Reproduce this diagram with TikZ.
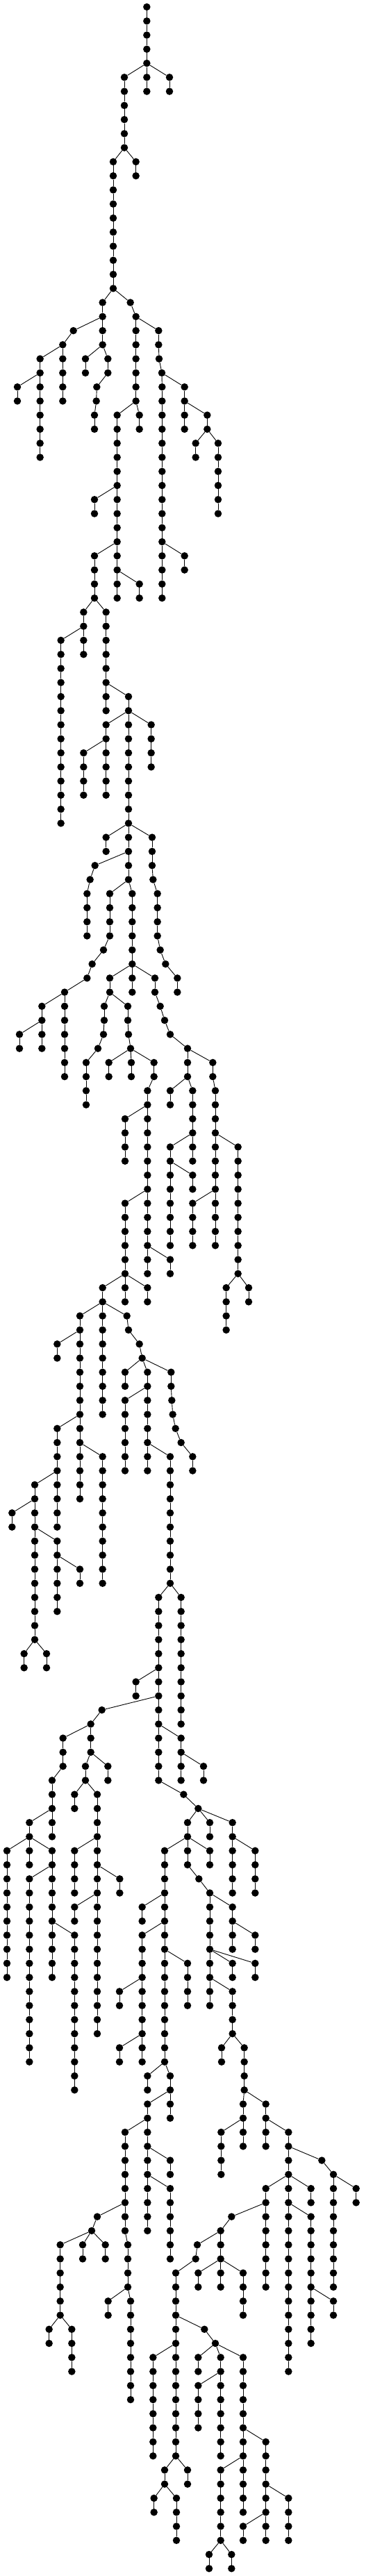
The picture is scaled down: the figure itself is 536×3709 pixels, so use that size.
\documentclass[tikz,border=0pt]{standalone}
\usepackage{tikz}
\tikzset{
  dot/.style={circle,fill=black,draw=none,inner sep=0pt,minimum size=10.5pt},
  edge/.style={draw=black,line width=0.9pt}
}
\newcommand\vch[4]{%
  \foreach \lv in {#2,...,#3}{%
    \node[dot] (#1-\lv) at ({#4/3},{-(10+\lv*20.265)}) {};
    \ifnum\lv>#2\relax
      \pgfmathtruncatemacro\pv{\lv-1}%
      \draw[edge] (#1-\pv) -- (#1-\lv);
    \fi
  }}
\newcommand\pth[3]{%
  \foreach \xx [count=\i from 0] in {#3}{%
    \pgfmathtruncatemacro\lv{#2+\i}%
    \node[dot] (#1-\lv) at ({\xx/3},{-(10+\lv*20.265)}) {};
    \ifnum\i>0\relax
      \pgfmathtruncatemacro\pv{\lv-1}%
      \draw[edge] (#1-\pv) -- (#1-\lv);
    \fi
  }}
\newcommand\ed[2]{\draw[edge] (#1) -- (#2);}
\begin{document}
\begin{tikzpicture}[x=1pt,y=1pt]
\useasboundingbox (0,0) rectangle (536,-3709);
\vch{A}{0}{4}{634}
\vch{B}{5}{6}{634}
\vch{C}{5}{6}{732}
\vch{D}{5}{10}{537}
\vch{E}{11}{12}{587}
\vch{F}{11}{20}{489}
\vch{G}{21}{22}{443}
\pth{H}{21}{563,587}
\vch{I}{23}{28}{587}
\vch{K}{23}{24}{443}
\pth{L}{23}{317,271}
\vch{M}{25}{26}{369}
\pth{N}{25}{466,466,418,416,408,408}
\vch{O}{25}{28}{271}
\vch{P}{25}{26}{173}
\vch{Q}{27}{28}{75}
\vch{R}{27}{32}{173}
\vch{S}{29}{34}{506}
\vch{T}{29}{30}{602}
\pth{J}{23}{685,685,687,699}
\vch{U}{27}{42}{700}
\vch{V}{27}{28}{797}
\vch{W}{29}{30}{797}
\vch{X}{29}{30}{895}
\vch{Y}{31}{32}{845}
\vch{Z}{31}{36}{942}
\vch{AA}{35}{36}{408}
\vch{AB}{35}{38}{506}
\vch{AC}{39}{42}{408}
\vch{AD}{39}{40}{506}
\vch{AE}{41}{42}{506}
\vch{AF}{41}{42}{602}
\vch{AG}{43}{44}{361}
\vch{AH}{43}{48}{458}
\vch{AI}{45}{58}{263}
\vch{AJ}{45}{46}{361}
\vch{AK}{39}{40}{797}
\vch{AL}{49}{50}{458}
\vch{AM}{49}{50}{555}
\vch{AN}{51}{52}{458}
\vch{AO}{51}{58}{555}
\vch{AP}{51}{54}{653}
\vch{AQ}{53}{56}{361}
\vch{AR}{53}{56}{458}
\vch{AS}{59}{60}{458}
\vch{AT}{59}{62}{555}
\pth{AU}{59}{657,657,657,661,680,680,680,680,692,715,766,766}
\pth{AV}{61}{410,389,376,376,376,376}
\pth{AW}{63}{474,474,474,474,447,398,376,279}
\vch{AX}{63}{68}{571}
\vch{AY}{71}{72}{181}
\vch{AZ}{71}{76}{279}
\vch{BA}{73}{74}{84}
\vch{BB}{73}{74}{181}
\vch{BC}{69}{70}{474}
\vch{BD}{69}{70}{571}
\pth{BE}{69}{669,669,692,711,735,810,810,810}
\pth{BF}{71}{450,450,447,423,372,372,372,372}
\pth{BG}{71}{552,552,555,564}
\vch{BH}{75}{76}{470}
\vch{BI}{75}{76}{567}
\pth{BJ}{75}{665,665,637,637,637,637,637,637,637,637,637,637,637,637,637,637}
\vch{BK}{79}{82}{540}
\vch{BL}{85}{92}{540}
\vch{BM}{89}{90}{735}
\vch{BN}{91}{92}{443}
\vch{BO}{91}{92}{637}
\pth{BP}{75}{919,919,930,930,930,930,930,930,930,930,930,930,930,930}
\vch{BQ}{81}{90}{1028}
\vch{BR}{85}{88}{832}
\vch{BS}{91}{94}{977}
\vch{BT}{91}{92}{1074}
\vch{BU}{77}{78}{735}
\vch{BV}{77}{82}{832}
\vch{BW}{81}{88}{735}
\vch{BX}{83}{84}{832}
\vch{BY}{93}{106}{345}
\vch{BZ}{93}{100}{443}
\pth{CA}{93}{548,555,602,614}
\vch{CB}{95}{96}{247}
\vch{CC}{101}{108}{247}
\vch{CD}{103}{112}{443}
\vch{CE}{105}{116}{150}
\vch{CF}{107}{108}{52}
\vch{CG}{109}{114}{247}
\vch{CH}{117}{118}{104}
\vch{CI}{117}{118}{201}
\vch{CJ}{111}{112}{345}
\vch{CK}{97}{98}{540}
\vch{CL}{97}{104}{637}
\pth{CM}{97}{739,739,742,746,758,782,832,832}
\vch{CN}{99}{104}{540}
\vch{CO}{103}{112}{735}
\pth{CP}{113}{685,685,685,685,685,685,685,685,685,685,685,685,685,685,793,856}
\vch{CQ}{113}{122}{782}
\vch{CR}{119}{120}{587}
\pth{CS}{121}{440,392,392,392}
\vch{CT}{123}{126}{782}
\pth{CU}{123}{272,272,272,225,225,225,225,225}
\vch{CV}{125}{126}{369}
\vch{CW}{125}{126}{466}
\vch{CX}{129}{132}{127}
\vch{CY}{131}{140}{30}
\vch{CZ}{131}{140}{225}
\vch{DA}{133}{146}{127}
\vch{DB}{137}{148}{322}
\vch{DC}{127}{128}{322}
\vch{DD}{127}{144}{420}
\vch{DE}{131}{134}{322}
\vch{DF}{133}{134}{517}
\vch{DG}{135}{136}{322}
\vch{DH}{125}{126}{879}
\pth{DI}{129}{810,810,810,810,859,906,906,906,906,906,906,906,906,906}
\vch{DJ}{129}{130}{906}
\vch{DK}{129}{134}{1004}
\vch{DL}{131}{134}{1102}
\vch{DM}{131}{146}{711}
\vch{DN}{131}{132}{906}
\vch{DO}{135}{138}{1004}
\vch{DP}{139}{140}{1004}
\vch{DQ}{139}{140}{1102}
\pth{DR}{141}{1004,1004,1004,1004,1055,1055,1055,1055}
\vch{DS}{137}{138}{1102}
\vch{DT}{145}{146}{957}
\vch{DU}{135}{136}{614}
\vch{DV}{137}{146}{614}
\vch{DW}{139}{142}{810}
\vch{DX}{147}{148}{637}
\vch{DY}{147}{150}{735}
\vch{DZ}{141}{142}{516}
\vch{EA}{145}{146}{516}
\vch{EB}{149}{158}{637}
\pth{EC}{151}{540,540,540,540,540,540,540,540,552,552,552,552,564,564,564,564,564,564,564,564}
\vch{ED}{153}{154}{735}
\vch{EE}{155}{160}{735}
\vch{EF}{163}{164}{467}
\pth{EG}{157}{420,396}
\vch{EH}{159}{164}{260}
\vch{EI}{159}{160}{357}
\vch{EJ}{159}{160}{455}
\vch{EK}{165}{166}{212}
\vch{EL}{165}{168}{310}
\vch{EM}{149}{152}{1050}
\vch{EN}{149}{152}{1148}
\vch{EO}{151}{154}{955}
\vch{EP}{151}{168}{1246}
\pth{EQ}{153}{1390,1440,1440,1440,1440,1440,1440,1440,1440,1440}
\vch{ER}{155}{162}{1148}
\vch{ES}{155}{156}{1343}
\vch{ET}{157}{166}{1343}
\vch{EU}{155}{156}{1538}
\vch{EV}{163}{164}{1440}
\pth{EW}{157}{1000,953,953,953,953,953}
\pth{EX}{159}{852,845,759,759,759,759,759,759,759,759,759,759,759,759,759,759}
\vch{EY}{161}{162}{856}
\vch{EZ}{161}{164}{1050}
\pth{FA}{165}{883,930}
\vch{FB}{167}{174}{661}
\vch{FC}{175}{176}{711}
\vch{FD}{175}{176}{810}
\vch{FE}{167}{168}{856}
\vch{FF}{167}{174}{953}
\vch{FG}{167}{178}{1050}
\vch{FH}{169}{172}{856}
\vch{FI}{173}{180}{1148}
\vch{FJ}{175}{180}{953}
\vch{FK}{181}{182}{903}
\vch{FL}{181}{182}{1000}
\vch{FM}{177}{180}{1246}
\vch{FN}{179}{180}{1050}
\vch{FO}{177}{178}{665}
\vch{FP}{177}{180}{762}
% branch connectors
\ed{A-4}{B-5}\ed{A-4}{C-5}\ed{A-4}{D-5}
\ed{D-10}{E-11}\ed{D-10}{F-11}
\ed{F-20}{G-21}\ed{F-20}{H-21}
\ed{H-22}{I-23}\ed{H-22}{J-23}
\ed{G-22}{K-23}\ed{G-22}{L-23}
\ed{K-24}{M-25}\ed{K-24}{N-25}
\ed{L-24}{O-25}\ed{L-24}{P-25}
\ed{P-26}{Q-27}\ed{P-26}{R-27}
\ed{I-28}{S-29}\ed{I-28}{T-29}
\ed{J-26}{U-27}\ed{J-26}{V-27}
\ed{V-28}{W-29}\ed{V-28}{X-29}
\ed{X-30}{Y-31}\ed{X-30}{Z-31}
\ed{S-34}{AA-35}\ed{S-34}{AB-35}
\ed{AB-38}{AC-39}\ed{AB-38}{AD-39}
\ed{AD-40}{AE-41}\ed{AD-40}{AF-41}
\ed{AC-42}{AG-43}\ed{AC-42}{AH-43}
\ed{AG-44}{AI-45}\ed{AG-44}{AJ-45}
\ed{U-38}{AK-39}
\ed{AH-48}{AL-49}\ed{AH-48}{AM-49}
\ed{AM-50}{AN-51}\ed{AM-50}{AO-51}\ed{AM-50}{AP-51}
\ed{AN-52}{AQ-53}\ed{AN-52}{AR-53}
\ed{AO-58}{AS-59}\ed{AO-58}{AT-59}\ed{AO-58}{AU-59}
\ed{AT-60}{AV-61}
\ed{AT-62}{AW-63}\ed{AT-62}{AX-63}
\ed{AW-70}{AY-71}\ed{AW-70}{AZ-71}
\ed{AY-72}{BA-73}\ed{AY-72}{BB-73}
\ed{AX-68}{BC-69}\ed{AX-68}{BD-69}\ed{AX-68}{BE-69}
\ed{BC-70}{BF-71}\ed{BC-70}{BG-71}
\ed{BG-74}{BH-75}\ed{BG-74}{BI-75}\ed{BG-74}{BJ-75}
\ed{BJ-78}{BK-79}\ed{BJ-84}{BL-85}\ed{BJ-88}{BM-89}
\ed{BL-90}{BN-91}\ed{BL-90}{BO-91}
\ed{BE-74}{BP-75}
\ed{BP-80}{BQ-81}\ed{BP-84}{BR-85}
\ed{BQ-90}{BS-91}\ed{BQ-90}{BT-91}
\ed{BE-76}{BU-77}\ed{BE-76}{BV-77}
\ed{BV-80}{BW-81}
\ed{BW-82}{BX-83}
\ed{BN-92}{BY-93}\ed{BN-92}{BZ-93}\ed{BN-92}{CA-93}
\ed{BY-94}{CB-95}\ed{BY-100}{CC-101}\ed{BY-102}{CD-103}
\ed{CC-104}{CE-105}
\ed{CE-106}{CF-107}\ed{CE-108}{CG-109}\ed{CE-116}{CH-117}\ed{CE-116}{CI-117}
\ed{CG-110}{CJ-111}
\ed{CA-96}{CK-97}\ed{CA-96}{CL-97}\ed{CA-96}{CM-97}
\ed{CL-98}{CN-99}\ed{CL-102}{CO-103}
\ed{CO-112}{CP-113}\ed{CO-112}{CQ-113}
\ed{CP-118}{CR-119}\ed{CP-120}{CS-121}\ed{CP-122}{CT-123}
\ed{CS-122}{CU-123}\ed{CS-124}{CV-125}\ed{CS-124}{CW-125}
\ed{CU-128}{CX-129}
\ed{CX-130}{CY-131}\ed{CX-130}{CZ-131}
\ed{CZ-132}{DA-133}\ed{CZ-136}{DB-137}
\ed{CV-126}{DC-127}\ed{CV-126}{DD-127}
\ed{DD-130}{DE-131}\ed{DD-132}{DF-133}\ed{DD-134}{DG-135}
\ed{CT-124}{DH-125}
\ed{CP-128}{DI-129}\ed{CP-128}{DJ-129}\ed{CP-128}{DK-129}
\ed{DK-130}{DL-131}
\ed{DI-130}{DM-131}\ed{DI-130}{DN-131}
\ed{DI-134}{DO-135}\ed{DI-138}{DP-139}\ed{DI-138}{DQ-139}\ed{DI-140}{DR-141}
\ed{DO-136}{DS-137}
\ed{DR-144}{DT-145}
\ed{DM-134}{DU-135}\ed{DM-136}{DV-137}\ed{DM-138}{DW-139}\ed{DM-146}{DX-147}\ed{DM-146}{DY-147}
\ed{DV-140}{DZ-141}\ed{DV-144}{EA-145}
\ed{DY-148}{EB-149}
\ed{EB-150}{EC-151}\ed{EB-152}{ED-153}\ed{EB-154}{EE-155}
\ed{EC-156}{EG-157}\ed{EC-162}{EF-163}
\ed{EG-158}{EH-159}\ed{EG-158}{EI-159}\ed{EG-158}{EJ-159}
\ed{EH-164}{EK-165}\ed{EH-164}{EL-165}
\ed{DR-148}{EM-149}\ed{DR-148}{EN-149}
\ed{EM-150}{EO-151}
\ed{EN-150}{EP-151}
\ed{EP-152}{EQ-153}\ed{EP-154}{ER-155}\ed{EP-154}{ES-155}\ed{EP-156}{ET-157}
\ed{EQ-154}{EU-155}
\ed{ET-162}{EV-163}
\ed{ER-156}{EW-157}
\ed{EW-158}{EX-159}\ed{EW-160}{EY-161}\ed{EW-160}{EZ-161}
\ed{EX-164}{FA-165}\ed{EX-166}{FB-167}\ed{EX-174}{FC-175}\ed{EX-174}{FD-175}
\ed{FA-166}{FE-167}\ed{FA-166}{FF-167}\ed{FA-166}{FG-167}
\ed{FF-168}{FH-169}
\ed{FG-172}{FI-173}\ed{FG-174}{FJ-175}
\ed{FJ-180}{FK-181}\ed{FJ-180}{FL-181}
\ed{FI-176}{FM-177}\ed{FI-178}{FN-179}
\ed{FC-176}{FO-177}\ed{FC-176}{FP-177}
\end{tikzpicture}
\end{document}
